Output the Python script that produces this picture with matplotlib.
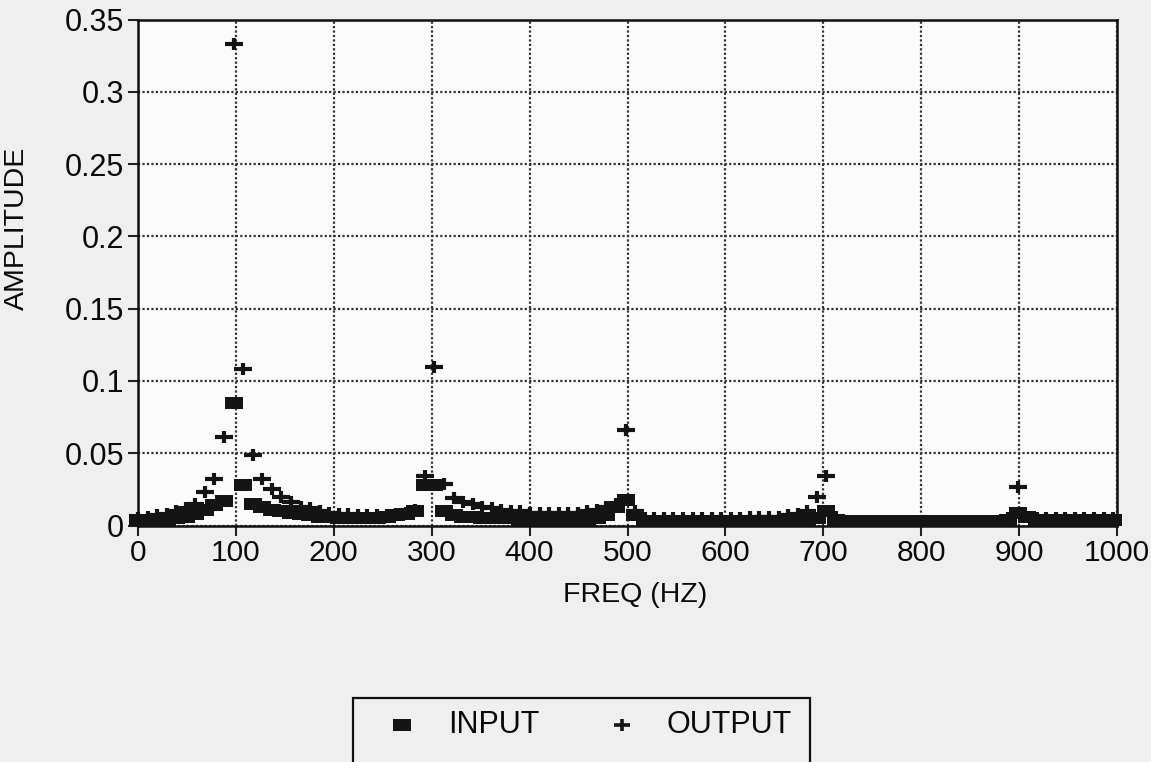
import matplotlib
matplotlib.use("Agg")
import matplotlib.pyplot as plt
from matplotlib.path import Path
from matplotlib.patches import Rectangle
from matplotlib.lines import Line2D

plt.rcParams['font.family'] = ['Liberation Sans', 'DejaVu Sans']

freq = [0.0, 9.8, 19.5, 29.3, 39.1, 48.8, 58.6, 68.4, 78.1, 87.9,
        97.7, 107.4, 117.2, 127.0, 136.7, 146.5, 156.3, 166.0, 175.8, 185.5,
        195.3, 205.1, 214.8, 224.6, 234.4, 244.1, 253.9, 263.7, 273.4, 283.2,
        293.0, 302.7, 312.5, 322.3, 332.0, 341.8, 351.6, 361.3, 371.1, 380.9,
        390.6, 400.4, 410.2, 419.9, 429.7, 439.5, 449.2, 459.0, 468.8, 478.5,
        488.3, 498.0, 507.8, 517.6, 527.3, 537.1, 546.9, 556.6, 566.4, 576.2,
        585.9, 595.7, 605.5, 615.2, 625.0, 634.8, 644.5, 654.3, 664.1, 673.8,
        683.6, 693.4, 703.1, 712.9, 722.7, 732.4, 742.2, 752.0, 761.7, 771.5,
        781.3, 791.0, 800.8, 810.5, 820.3, 830.1, 839.8, 849.6, 859.4, 869.1,
        878.9, 888.7, 898.4, 908.2, 918.0, 927.7, 937.5, 947.3, 957.0, 966.8,
        976.6, 986.3, 996.1]

input_amp = [0.004, 0.003, 0.003, 0.004, 0.005, 0.006, 0.008, 0.011, 0.014, 0.017,
             0.085, 0.028, 0.015, 0.013, 0.011, 0.010, 0.009, 0.008, 0.007, 0.006,
             0.006, 0.005, 0.005, 0.005, 0.005, 0.005, 0.006, 0.007, 0.008, 0.010,
             0.028, 0.028, 0.010, 0.007, 0.006, 0.006, 0.005, 0.005, 0.005, 0.005,
             0.004, 0.004, 0.004, 0.004, 0.004, 0.004, 0.004, 0.004, 0.005, 0.007,
             0.013, 0.018, 0.007, 0.003, 0.003, 0.003, 0.003, 0.003, 0.003, 0.003,
             0.003, 0.003, 0.003, 0.003, 0.003, 0.003, 0.003, 0.003, 0.003, 0.003,
             0.004, 0.005, 0.010, 0.004, 0.003, 0.003, 0.003, 0.003, 0.003, 0.003,
             0.003, 0.003, 0.003, 0.003, 0.003, 0.003, 0.003, 0.003, 0.003, 0.003,
             0.003, 0.004, 0.009, 0.006, 0.004, 0.004, 0.004, 0.004, 0.004, 0.004,
             0.004, 0.004, 0.004]

output_amp = [0.005, 0.006, 0.007, 0.008, 0.010, 0.012, 0.015, 0.023, 0.032, 0.061,
              0.333, 0.108, 0.049, 0.032, 0.025, 0.020, 0.016, 0.013, 0.012, 0.010,
              0.009, 0.008, 0.008, 0.007, 0.007, 0.007, 0.007, 0.008, 0.009, 0.011,
              0.034, 0.110, 0.029, 0.019, 0.016, 0.015, 0.013, 0.012, 0.011, 0.010,
              0.010, 0.009, 0.009, 0.009, 0.009, 0.009, 0.009, 0.010, 0.011, 0.013,
              0.015, 0.066, 0.010, 0.005, 0.005, 0.005, 0.005, 0.005, 0.005, 0.005,
              0.005, 0.005, 0.005, 0.005, 0.006, 0.006, 0.006, 0.006, 0.007, 0.008,
              0.010, 0.020, 0.034, 0.006, 0.003, 0.003, 0.003, 0.003, 0.003, 0.003,
              0.003, 0.003, 0.003, 0.003, 0.003, 0.003, 0.003, 0.003, 0.003, 0.003,
              0.003, 0.005, 0.027, 0.006, 0.005, 0.005, 0.005, 0.005, 0.005, 0.005,
              0.005, 0.005, 0.005]

x_ticks = [0, 100, 200, 300, 400, 500, 600, 700, 800, 900, 1000]
y_ticks = [0, 0.05, 0.1, 0.15, 0.2, 0.25, 0.3, 0.35]
y_tick_labels = ['0', '0.05', '0.1', '0.15', '0.2', '0.25', '0.3', '0.35']
series_names = ['INPUT', 'OUTPUT']

# custom (slightly wide) markers like the scanned plot
rect_marker = Path([(-1, -0.7), (1, -0.7), (1, 0.7), (-1, 0.7), (-1, -0.7)],
                   [Path.MOVETO, Path.LINETO, Path.LINETO, Path.LINETO, Path.CLOSEPOLY])
plus_marker = Path([(-1, 0), (1, 0), (0, -0.7), (0, 0.7)],
                   [Path.MOVETO, Path.LINETO, Path.MOVETO, Path.LINETO])

INK = '#141414'
W, H = 1151, 762
fig = plt.figure(figsize=(W / 100, H / 100), dpi=100, facecolor='#efefef')
ax = fig.add_axes([138 / W, 1 - 525.6 / H, (1117 - 138) / W, (525.6 - 19.5) / H])
ax.set_facecolor('#fbfbfb')

ax.plot(freq, input_amp, linestyle='none', marker=rect_marker, markersize=12.5,
        color=INK, markeredgewidth=0, clip_on=False, zorder=3)
ax.plot(freq, output_amp, linestyle='none', marker=plus_marker, markersize=13,
        color=INK, markeredgewidth=3, clip_on=False, zorder=4)

ax.set_xlim(0, 1000)
ax.set_ylim(0, 0.35)
ax.set_xticks(x_ticks)
ax.set_xticklabels([str(t) for t in x_ticks])
ax.set_yticks(y_ticks)
ax.set_yticklabels(y_tick_labels)
ax.tick_params(axis='both', length=7, width=1.5, color='#222222',
               labelcolor='#0a0a0a', direction='out')
ax.tick_params(axis='x', labelsize=21.5, pad=3)
ax.tick_params(axis='y', labelsize=22, pad=3)
ax.grid(True, color='#333333', linestyle=(0, (1, 1)), linewidth=1.6)
for s in ax.spines.values():
    s.set_linewidth(1.8)
    s.set_color('#111111')

ax.set_xlabel('FREQ (HZ)', fontsize=20.5, color='#0a0a0a')
ax.xaxis.set_label_coords((635 - 138) / 979, (525.6 - 595) / 506.1)
ax.xaxis.label.set_va('center')
ax.set_ylabel('AMPLITUDE', fontsize=20.5, color='#0a0a0a')
ax.yaxis.set_label_coords((17 - 138) / 979, (525.6 - 228) / 506.1)
ax.yaxis.label.set_va('center')

# legend box (cut by the bottom edge like the scan)
fig.patches.append(Rectangle((353 / W, 1 - 790 / H), (810 - 353) / W, (790 - 698) / H,
                             transform=fig.transFigure, facecolor='none',
                             edgecolor='#111111', linewidth=1.6))
ly = 1 - 725 / H
fig.add_artist(Line2D([402 / W], [ly], transform=fig.transFigure, linestyle='none',
                      marker=rect_marker, markersize=13, color=INK, markeredgewidth=0))
fig.add_artist(Line2D([622 / W], [ly], transform=fig.transFigure, linestyle='none',
                      marker=plus_marker, markersize=12, color=INK, markeredgewidth=2.6))
fig.text(448 / W, ly, series_names[0], fontsize=22, va='center', ha='left', color='#0a0a0a')
fig.text(667 / W, ly, series_names[1], fontsize=22, va='center', ha='left', color='#0a0a0a')

fig.savefig('out.png', dpi=100, facecolor=fig.get_facecolor())
